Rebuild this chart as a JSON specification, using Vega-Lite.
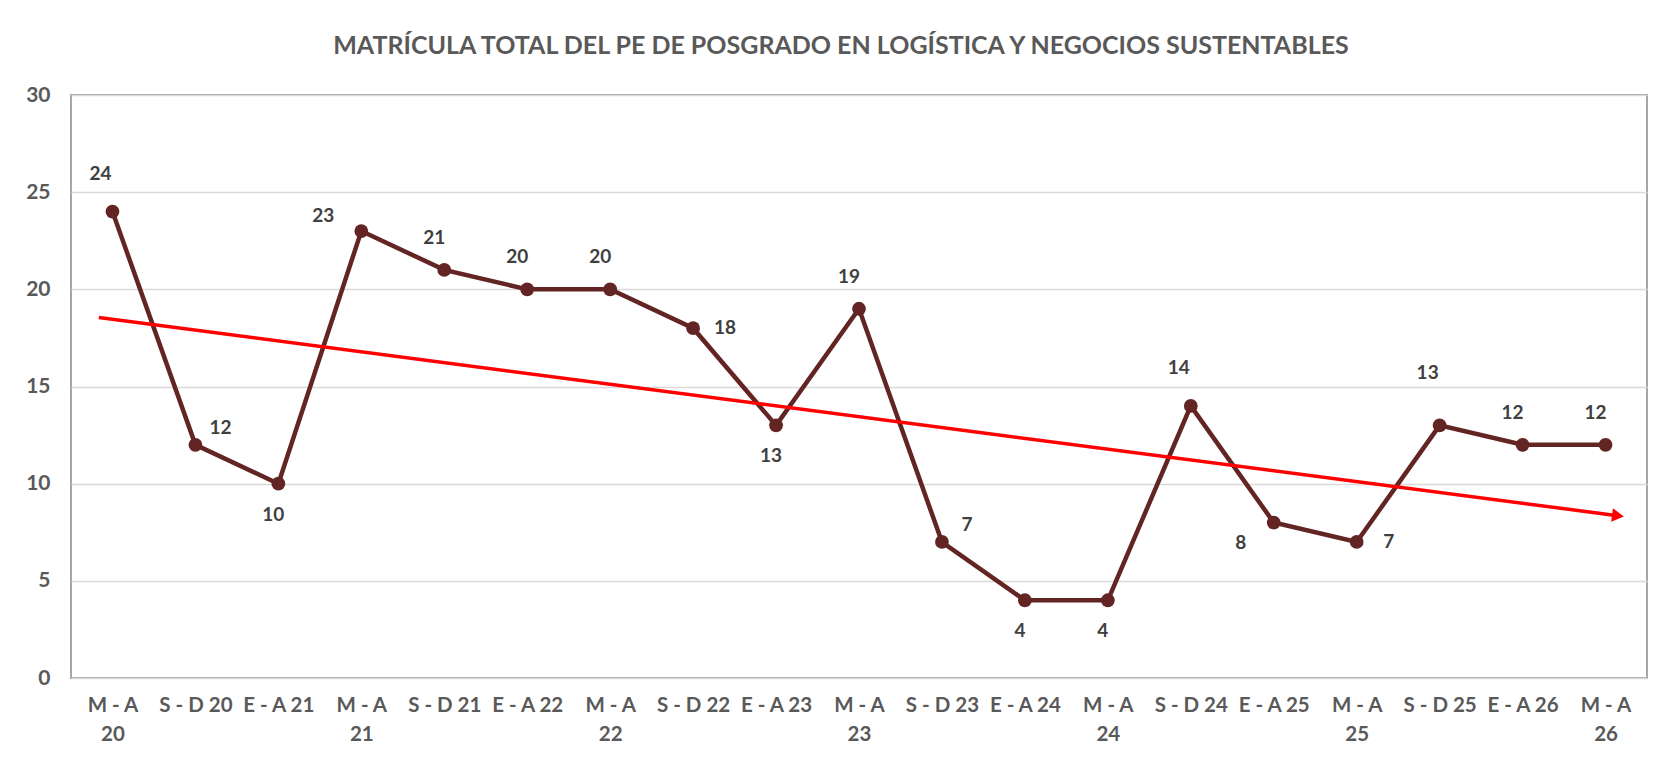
{
  "$schema": "https://vega.github.io/schema/vega-lite/v6.json",
  "width": 1576,
  "height": 583,
  "autosize": {"type": "none"},
  "padding": {"left": 71, "top": 95, "right": 30, "bottom": 86},
  "background": "white",
  "title": {
    "text": "MATRÍCULA TOTAL DEL PE DE POSGRADO EN LOGÍSTICA Y NEGOCIOS SUSTENTABLES",
    "font": "Lato",
    "fontSize": 25,
    "fontWeight": "bold",
    "color": "#595959",
    "anchor": "middle",
    "dx": -18,
    "offset": 25
  },
  "config": {
    "view": {"stroke": "#A6A6A6", "strokeWidth": 2},
    "axis": {
      "labelFont": "Lato",
      "labelFontWeight": "bold",
      "labelColor": "#595959",
      "ticks": false,
      "domain": false,
      "title": null
    }
  },
  "datasets": {
    "matricula": [
      {"periodo": "M - A 20", "matricula": 24},
      {"periodo": "S - D 20", "matricula": 12},
      {"periodo": "E - A 21", "matricula": 10},
      {"periodo": "M - A 21", "matricula": 23},
      {"periodo": "S - D 21", "matricula": 21},
      {"periodo": "E - A 22", "matricula": 20},
      {"periodo": "M - A 22", "matricula": 20},
      {"periodo": "S - D 22", "matricula": 18},
      {"periodo": "E - A 23", "matricula": 13},
      {"periodo": "M - A 23", "matricula": 19},
      {"periodo": "S - D 23", "matricula": 7},
      {"periodo": "E - A 24", "matricula": 4},
      {"periodo": "M - A 24", "matricula": 4},
      {"periodo": "S - D 24", "matricula": 14},
      {"periodo": "E - A 25", "matricula": 8},
      {"periodo": "M - A 25", "matricula": 7},
      {"periodo": "S - D 25", "matricula": 13},
      {"periodo": "E - A 26", "matricula": 12},
      {"periodo": "M - A 26", "matricula": 12}
    ],
    "tendencia": [
      {"t": -0.165, "v": 18.55},
      {"t": 18.1, "v": 8.38}
    ],
    "flecha": [
      {"t": 18.15, "v": 8.35}
    ]
  },
  "layer": [
    {
      "data": {"name": "matricula"},
      "encoding": {
        "x": {
          "field": "periodo",
          "type": "nominal",
          "scale": {
            "type": "point",
            "padding": 0.5,
            "domain": ["M - A 20", "S - D 20", "E - A 21", "M - A 21", "S - D 21", "E - A 22", "M - A 22", "S - D 22", "E - A 23", "M - A 23", "S - D 23", "E - A 24", "M - A 24", "S - D 24", "E - A 25", "M - A 25", "S - D 25", "E - A 26", "M - A 26"]
          },
          "axis": {
            "labelAngle": 0,
            "labelFontSize": 20.5,
            "labelPadding": 17,
            "labelLineHeight": 29,
            "labelBaseline": "top",
            "grid": false,
            "labelExpr": "indexof(datum.label, 'M - A') == 0 ? ['M - A', substring(datum.label, 6)] : datum.label"
          }
        },
        "y": {
          "field": "matricula",
          "type": "quantitative",
          "scale": {"domain": [0, 30], "nice": false},
          "axis": {
            "values": [0, 5, 10, 15, 20, 25, 30],
            "labelFontSize": 21,
            "labelPadding": 21,
            "grid": true,
            "gridColor": "#D9D9D9",
            "gridWidth": 1.5
          }
        }
      },
      "layer": [
        {"mark": {"type": "line", "color": "#632523", "strokeWidth": 4.5}},
        {"mark": {"type": "point", "filled": true, "opacity": 1, "color": "#632523", "size": 190}},
        {
          "transform": [{"filter": {"field": "periodo", "oneOf": ["S - D 21", "E - A 22", "M - A 22", "M - A 23", "E - A 26", "M - A 26"]}}],
          "mark": {"type": "text", "font": "Lato", "fontWeight": "bold", "fontSize": 19, "color": "#404040", "dx": -10, "dy": -32},
          "encoding": {"text": {"field": "matricula", "type": "quantitative"}}
        },
        {
          "transform": [{"filter": {"field": "periodo", "oneOf": ["M - A 20", "S - D 24"]}}],
          "mark": {"type": "text", "font": "Lato", "fontWeight": "bold", "fontSize": 19, "color": "#404040", "dx": -12, "dy": -38},
          "encoding": {"text": {"field": "matricula", "type": "quantitative"}}
        },
        {
          "transform": [{"filter": {"field": "periodo", "oneOf": ["S - D 25"]}}],
          "mark": {"type": "text", "font": "Lato", "fontWeight": "bold", "fontSize": 19, "color": "#404040", "dx": -12, "dy": -52},
          "encoding": {"text": {"field": "matricula", "type": "quantitative"}}
        },
        {
          "transform": [{"filter": {"field": "periodo", "oneOf": ["S - D 22", "M - A 25"]}}],
          "mark": {"type": "text", "font": "Lato", "fontWeight": "bold", "fontSize": 19, "color": "#404040", "dx": 32, "dy": 0},
          "encoding": {"text": {"field": "matricula", "type": "quantitative"}}
        },
        {
          "transform": [{"filter": {"field": "periodo", "oneOf": ["S - D 20", "S - D 23"]}}],
          "mark": {"type": "text", "font": "Lato", "fontWeight": "bold", "fontSize": 19, "color": "#404040", "dx": 25, "dy": -17},
          "encoding": {"text": {"field": "matricula", "type": "quantitative"}}
        },
        {
          "transform": [{"filter": {"field": "periodo", "oneOf": ["E - A 21", "E - A 23", "E - A 24", "M - A 24"]}}],
          "mark": {"type": "text", "font": "Lato", "fontWeight": "bold", "fontSize": 19, "color": "#404040", "dx": -5, "dy": 31},
          "encoding": {"text": {"field": "matricula", "type": "quantitative"}}
        },
        {
          "transform": [{"filter": {"field": "periodo", "oneOf": ["M - A 21"]}}],
          "mark": {"type": "text", "font": "Lato", "fontWeight": "bold", "fontSize": 19, "color": "#404040", "dx": -38, "dy": -15},
          "encoding": {"text": {"field": "matricula", "type": "quantitative"}}
        },
        {
          "transform": [{"filter": {"field": "periodo", "oneOf": ["E - A 25"]}}],
          "mark": {"type": "text", "font": "Lato", "fontWeight": "bold", "fontSize": 19, "color": "#404040", "dx": -33, "dy": 20},
          "encoding": {"text": {"field": "matricula", "type": "quantitative"}}
        }
      ]
    },
    {
      "encoding": {
        "x": {"field": "t", "type": "quantitative", "scale": {"domain": [-0.5, 18.5], "nice": false, "zero": false}, "axis": null},
        "y": {"field": "v", "type": "quantitative"}
      },
      "layer": [
        {"data": {"name": "tendencia"}, "mark": {"type": "line", "color": "#FF0000", "strokeWidth": 3.5}},
        {"data": {"name": "flecha"}, "mark": {"type": "point", "shape": "triangle-right", "filled": true, "opacity": 1, "color": "#FF0000", "size": 190, "angle": 7.4}}
      ]
    }
  ],
  "resolve": {"scale": {"x": "independent"}}
}
